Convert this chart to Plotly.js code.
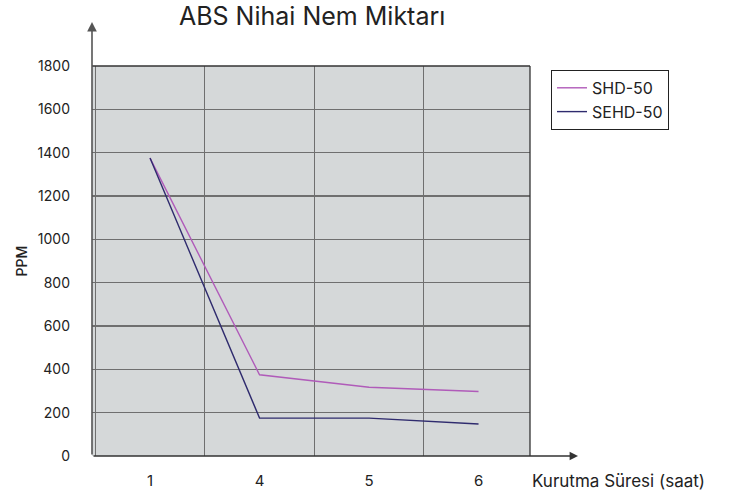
<!DOCTYPE html>
<html><head><meta charset="utf-8">
<script src="https://cdn.plot.ly/plotly-3.0.1.min.js"></script>
<style>body{margin:0;background:#fff}#c{width:731px;height:495px}</style>
</head><body><div id="c"></div>
<script>
const categories = ["1", "4", "5", "6"];
const shd50 = [1375, 375, 317, 298];
const sehd50 = [1375, 175, 175, 148];
const yTicks = [0, 200, 400, 600, 800, 1000, 1200, 1400, 1600, 1800];

const idx = categories.map((c, i) => i);
const font = "Inter, 'Noto Sans', sans-serif";

const traces = [
  {x: idx, y: shd50, name: "SHD-50", type: "scatter", mode: "lines",
   line: {color: "#b05bb9", width: 1.4}},
  {x: idx, y: sehd50, name: "SEHD-50", type: "scatter", mode: "lines",
   line: {color: "#2f2b6e", width: 1.4}}
];

const layout = {
  width: 731, height: 495,
  margin: {l: 92, r: 201, t: 66, b: 39},
  paper_bgcolor: "#ffffff",
  plot_bgcolor: "#d5d8d9",
  font: {family: font, color: "#222", size: 14},
  title: {text: "ABS Nihai Nem Miktarı", x: 0.427, xanchor: "center", y: 0.968, yanchor: "middle",
          font: {family: font, size: 25, color: "#222"}},
  showlegend: true,
  legend: {x: 1.048, y: 0.99, xanchor: "left", yanchor: "top",
           bordercolor: "#222", borderwidth: 1, bgcolor: "#fff",
           font: {family: font, size: 16, color: "#222"}, itemwidth: 30,
           tracegroupgap: 2},
  xaxis: {range: [-0.53, 3.47], tickvals: idx, ticktext: categories,
          showgrid: false, zeroline: false, showline: false, ticks: "",
          tickfont: {size: 15}, ticklabelstandoff: 14,
          minor: {tick0: 0.5, dtick: 1, showgrid: true, gridcolor: "#6f6f6f", gridwidth: 1.2, ticks: ""},
          fixedrange: true},
  yaxis: {range: [0, 1800], tickvals: yTicks, ticktext: yTicks.map(String),
          showgrid: true, gridcolor: "#6f6f6f", gridwidth: 1.2, zeroline: false,
          showline: false, ticks: "", tickfont: {size: 14}, ticklabelstandoff: 21,
          title: {text: "PPM", font: {size: 14, color: "#222", weight: 500}, standoff: 6},
          fixedrange: true},
  shapes: [
    {type: "line", xref: "paper", yref: "paper", x0: 0, x1: 1, y0: 1, y1: 1, line: {color: "#333", width: 1.3}},
    {type: "line", xref: "paper", yref: "paper", x0: 1, x1: 1, y0: 0, y1: 1, line: {color: "#333", width: 1.3}}
  ],
  annotations: [
    {xref: "paper", yref: "paper", x: (578 - 92) / 438, y: 0, ax: -486, ay: 0,
     showarrow: true, arrowhead: 2, arrowsize: 1.2, arrowwidth: 1.4, arrowcolor: "#333", text: ""},
    {xref: "paper", yref: "paper", x: 0, y: (456 - 22) / 390, ax: 0, ay: 434,
     showarrow: true, arrowhead: 2, arrowsize: 1.2, arrowwidth: 1.6, arrowcolor: "#555", text: ""},
    {xref: "paper", yref: "paper", x: (530 - 92) / 438, y: 0, yshift: -25, xanchor: "left", yanchor: "middle",
     showarrow: false, text: "Kurutma Süresi (saat)", font: {family: font, size: 17, color: "#222"}}
  ]
};

Plotly.newPlot("c", traces, layout, {displayModeBar: false, staticPlot: true});
</script></body></html>
